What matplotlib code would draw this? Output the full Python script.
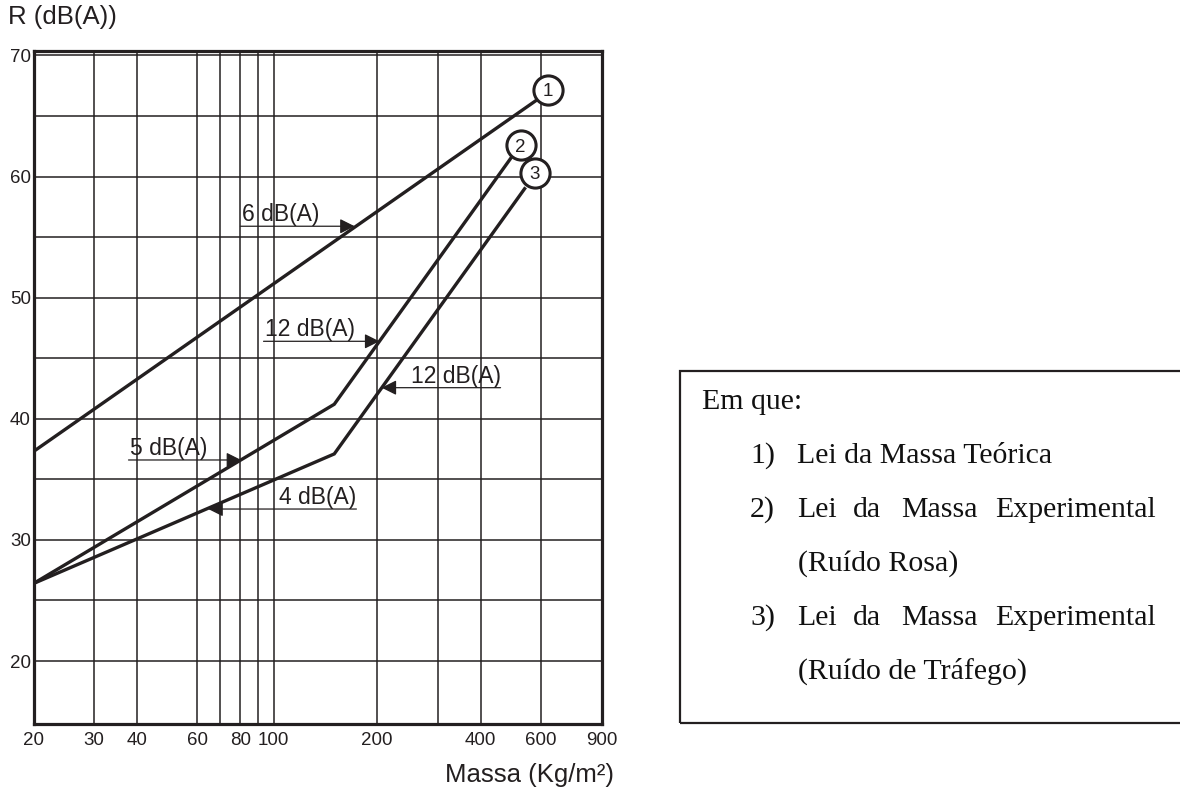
import matplotlib
matplotlib.use('Agg')
import matplotlib.pyplot as plt
from matplotlib import rcParams
from matplotlib.ticker import FixedLocator, FixedFormatter, NullFormatter
from matplotlib.patches import Rectangle

rcParams['font.family'] = ['Liberation Sans', 'DejaVu Sans']

# curvas (massa em Kg/m², R em dB(A))
massTeorica = [20, 581]
rTeorica = [37.3, 66.3]
massRosa = [20, 150, 489]
rRosa = [26.4, 41.2, 61.5]
massTrafego = [20, 150, 537]
rTrafego = [26.4, 37.1, 59.0]

# números das curvas
circleLabels = ['1', '2', '3']
circleMass = [628, 523, 574]
circleR = [67.15, 62.6, 60.3]

# setas com a inclinação de cada troço
arrowLabels = ['6 dB(A)', '12 dB(A)', '5 dB(A)', '12 dB(A)', '4 dB(A)']
arrowTipMass = [172, 203, 80.4, 206, 64.5]
arrowTailMass = [80, 93.4, 37.8, 457, 174]
arrowR = [55.9, 46.4, 36.6, 42.57, 32.55]

# eixos
xTicks = [20, 30, 40, 60, 80, 100, 200, 400, 600, 900]
xTickLabels = ['20', '30', '40', '60', '80', '100', '200', '400', '600', '900']
xGridExtra = [70, 90, 300]
yTicks = [20, 30, 40, 50, 60, 70]
yGridExtra = [25, 35, 45, 55, 65]

# legenda da caixa
boxTitle = 'Em que:'
boxItems = ['1)', '2)', '3)']
boxLine1 = 'Lei da Massa Teórica'
boxLineExp = ['Lei', 'da', 'Massa', 'Experimental']
boxSub2 = '(Ruído Rosa)'
boxSub3 = '(Ruído de Tráfego)'

ink = '#231f20'
W, H = 1180, 791

fig = plt.figure(figsize=(W / 100, H / 100), dpi=100)
ax = fig.add_axes([33.5 / W, 67 / H, 568.2 / W, 673 / H])

ax.set_xscale('log')
ax.set_xlim(20, 900)
ax.set_ylim(14.8, 70.37)

ax.xaxis.set_major_locator(FixedLocator(xTicks))
ax.xaxis.set_major_formatter(FixedFormatter(xTickLabels))
ax.xaxis.set_minor_locator(FixedLocator(xGridExtra))
ax.xaxis.set_minor_formatter(NullFormatter())
ax.yaxis.set_major_locator(FixedLocator(yTicks))
ax.yaxis.set_minor_locator(FixedLocator(yGridExtra))
ax.yaxis.set_minor_formatter(NullFormatter())

ax.tick_params(which='both', length=0, labelsize=13.5, colors=ink)
ax.tick_params(axis='x', pad=6)
ax.tick_params(axis='y', pad=2)
ax.grid(True, which='both', color=ink, lw=1.1)
ax.set_axisbelow(True)
for s in ax.spines.values():
    s.set_linewidth(2.3)
    s.set_color(ink)
    s.set_zorder(4)

for mx, ry in [(massTeorica, rTeorica), (massRosa, rRosa), (massTrafego, rTrafego)]:
    ax.plot(mx, ry, color=ink, lw=2.4, solid_joinstyle='miter', zorder=3)

for lab, mx, ry in zip(circleLabels, circleMass, circleR):
    ax.plot([mx], [ry], marker='o', ms=21, mfc='white', mec=ink, mew=2.2,
            zorder=6, clip_on=False)
    ax.text(mx, ry, lab, ha='center', va='center_baseline', fontsize=13.5,
            color=ink, zorder=7)

for lab, tip, tail, ry in zip(arrowLabels, arrowTipMass, arrowTailMass, arrowR):
    ax.annotate('', xy=(tip, ry), xytext=(tail, ry),
                arrowprops=dict(arrowstyle='-|>,head_length=0.9,head_width=0.45',
                                mutation_scale=10, lw=0.9, color=ink,
                                shrinkA=0, shrinkB=0), zorder=5)
    ha = 'left' if tip > tail else 'right'
    dx = 1 if tip > tail else 0
    ax.annotate(lab, xy=(tail, ry), xytext=(dx, 3.6), textcoords='offset points',
                ha=ha, va='baseline', fontsize=16.5, color=ink, zorder=5)

fig.text(8 / W, 1 - 17 / H, 'R (dB(A))', ha='left', va='center', fontsize=18.5, color=ink)
fig.text(445 / W, 1 - 775 / H, 'Massa (Kg/m²)', ha='left', va='center', fontsize=18.5, color=ink)

# caixa com a legenda
fig.add_artist(Rectangle((680 / W, 1 - 723 / H), 510 / W, 352 / H, transform=fig.transFigure,
                         fill=False, ec=ink, lw=1.6))

def boxText(px, py, s):
    fig.text(px / W, 1 - py / H, s, ha='left', va='baseline', fontsize=21.5,
             family=['Liberation Serif', 'DejaVu Serif'], color='#111111')

boxText(701.7, 409, boxTitle)
boxText(750, 463, boxItems[0])
boxText(796.7, 463, boxLine1)
wordX = [796.7, 853.3, 900.7, 995]
for py, item in [(517, boxItems[1]), (625, boxItems[2])]:
    boxText(750, py, item)
    for wx, w in zip(wordX, boxLineExp):
        boxText(wx, py, w)
boxText(797.7, 571, boxSub2)
boxText(797.7, 679, boxSub3)

plt.savefig('out.png', dpi=100)
